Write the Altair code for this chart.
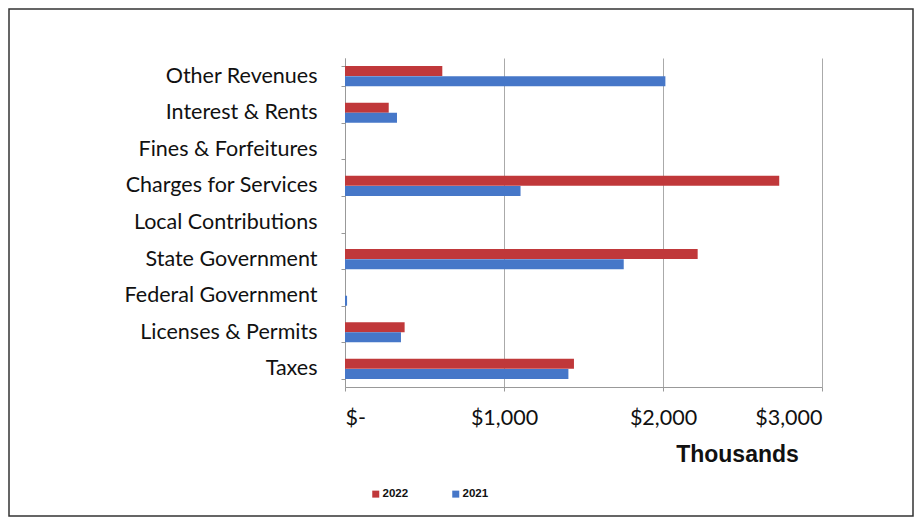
import altair as alt
import pandas as pd

categories = ["Other Revenues", "Interest & Rents", "Fines & Forfeitures",
              "Charges for Services", "Local Contributions", "State Government",
              "Federal Government", "Licenses & Permits", "Taxes"]
values_2022 = [612, 275, 0, 2731, 0, 2218, 0, 375, 1440]
values_2021 = [2015, 327, 0, 1104, 0, 1753, 13, 352, 1405]
years = ["2022", "2021"]
colors = ["#C0383A", "#4677C8"]

rows = []
for c, v22, v21 in zip(categories, values_2022, values_2021):
    rows.append({"category": c, "year": "2022", "value": v22})
    rows.append({"category": c, "year": "2021", "value": v21})
df = pd.DataFrame(rows)

LABEL_FONT = "Lato"

bars = alt.Chart(df).mark_bar(size=10).encode(
    y=alt.Y("category:N", sort=categories,
            scale=alt.Scale(paddingInner=0.45, paddingOuter=0.22),
            axis=alt.Axis(title=None, labelFont=LABEL_FONT, labelFontSize=21.5,
                          labelColor="#111", labelPadding=24, labelLimit=320,
                          tickBand="extent", ticks=True, tickSize=4, tickColor="#999",
                          domainColor="#999", grid=False)),
    yOffset=alt.YOffset("year:N", sort=years),
    x=alt.X("value:Q", scale=alt.Scale(domain=[0, 3000]),
            axis=alt.Axis(values=[0, 1000, 2000, 3000],
                          labelExpr="datum.value == 0 ? '$-' : '$' + format(datum.value, ',')",
                          labelFont=LABEL_FONT, labelFontSize=21.5, labelColor="#111",
                          labelPadding=16, tickSize=4, tickColor="#999",
                          domainColor="#999", gridColor="#aaa", grid=True,
                          title="Thousands", titleFont="Liberation Sans",
                          titleFontSize=23, titleFontWeight="bold", titleColor="#111",
                          titleX=392, titleY=74, titleAlign="center",
                          titleBaseline="alphabetic")),
    color=alt.Color("year:N", scale=alt.Scale(domain=years, range=colors),
                    legend=alt.Legend(title=None, orient="none", direction="horizontal",
                                      legendX=25, legendY=430, symbolType="square",
                                      symbolSize=49, symbolStrokeWidth=0,
                                      labelFont="Liberation Sans", labelFontSize=11.5,
                                      labelFontWeight="bold", labelColor="#111",
                                      labelOffset=1, columnPadding=41)),
)

frame = alt.Chart(pd.DataFrame({"a": [0]})).mark_rect(
    fill=None, stroke="#333", strokeWidth=1.5
).encode(
    x=alt.value(-336), x2=alt.value(568), y=alt.value(-49), y2=alt.value(458)
)

chart = alt.layer(frame, bars).properties(
    width=477, height=329,
    autosize=alt.AutoSizeParams(type="none"),
    padding={"left": 337, "top": 50, "right": 92, "bottom": 131},
    background="white",
).configure_view(stroke=None)

chart.save("out.html", embed_options={"renderer": "svg", "actions": False})
